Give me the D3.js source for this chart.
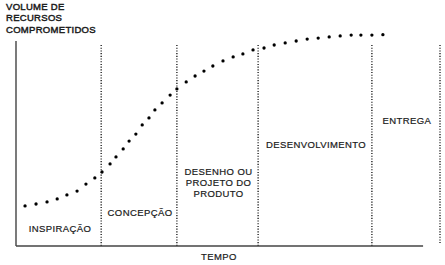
<!DOCTYPE html>
<html>
<head>
<meta charset="utf-8">
<script src="https://cdn.jsdelivr.net/npm/d3@7"></script>
<style>
  body { margin: 0; background: #fff; }
  text { font-family: 'Liberation Sans', Arial, sans-serif; fill: #1a1a1a; }
</style>
</head>
<body>
<div id="graf"></div>
<script>
// tempo (0-100) e volume de recursos (0-100)
const tempo = [1.9, 4.5, 7.1, 9.5, 11.8, 14.2, 16.3, 18.4, 20.1, 22.0, 23.4, 25.1, 26.5, 28.1, 29.6, 31.2, 32.6, 34.3, 36.2, 37.8,
  40.0, 42.1, 44.2, 46.3, 48.7, 51.1, 53.4, 55.8, 58.4, 60.8, 63.4, 66.0, 68.6, 71.2, 73.8, 76.4, 79.0, 81.3, 83.9, 86.5]
const volume = [18.9, 19.8, 20.8, 22.2, 24.1, 25.9, 29.2, 32.1, 34.9, 38.7, 42.0, 45.8, 49.5, 52.8, 57.1, 60.4, 64.2, 67.5, 71.2, 74.1,
  77.4, 80.2, 82.5, 84.9, 87.3, 89.2, 90.6, 92.5, 93.4, 94.8, 95.8, 96.7, 97.6, 98.1, 98.6, 99.1, 99.5, 99.5, 99.5, 99.7]
const fases = ['INSPIRAÇÃO', 'CONCEPÇÃO', 'DESENHO OU|PROJETO DO|PRODUTO', 'DESENVOLVIMENTO', 'ENTREGA']
const limites = [0, 19.9, 37.8, 57.0, 83.9, 100]
const tituloY = ['VOLUME DE', 'RECURSOS', 'COMPROMETIDOS']
const tituloX = 'TEMPO'

const anchoTotal = 445
const altoTotal = 265

const svg = d3.select('#graf')
  .append('svg')
  .attr('width', anchoTotal)
  .attr('height', altoTotal)

const x = d3.scaleLinear().domain([0, 100]).range([17, 440])
const y = d3.scaleLinear().domain([0, 100]).range([246, 34])

// baseline de cada rotulo de fase
const rotuloY = [232, 216, 175, 148, 124]

// linhas pontilhadas das fases
svg.selectAll('line.fase')
  .data(limites.slice(1))
  .enter()
  .append('line')
  .attr('class', 'fase')
  .attr('x1', d => x(d))
  .attr('x2', d => x(d))
  .attr('y1', 45)
  .attr('y2', (d, i) => i === 4 ? 243 : 247)
  .attr('stroke', '#111')
  .attr('stroke-width', 1.3)
  .attr('stroke-dasharray', '1.1,1.6')

// eixos
svg.append('line')
  .attr('x1', x(0) - 1).attr('x2', x(0) - 1)
  .attr('y1', 41).attr('y2', y(0))
  .attr('stroke', '#222')
  .attr('stroke-width', 1.2)

svg.append('line')
  .attr('x1', x(0) - 1).attr('x2', x(96))
  .attr('y1', y(0)).attr('y2', y(0))
  .attr('stroke', '#444')
  .attr('stroke-width', 1.4)

// curva pontilhada
svg.selectAll('circle')
  .data(tempo.map((t, i) => ({ t, v: volume[i] })))
  .enter()
  .append('circle')
  .attr('cx', d => x(d.t))
  .attr('cy', d => y(d.v))
  .attr('r', 1.65)
  .attr('fill', '#000')

// rotulos das fases
const rotulos = svg.selectAll('text.fase')
  .data(fases)
  .enter()
  .append('text')
  .attr('class', 'fase')
  .attr('text-anchor', 'middle')
  .attr('font-size', 9.5)
  .attr('letter-spacing', 0.4)
  .attr('stroke', '#1a1a1a')
  .attr('stroke-width', 0.2)
  .attr('y', (d, i) => rotuloY[i])

rotulos.each(function (d, i) {
  const cx = (x(limites[i]) + x(limites[i + 1])) / 2
  d3.select(this).selectAll('tspan')
    .data(d.split('|'))
    .enter()
    .append('tspan')
    .attr('x', cx + 1)
    .attr('dy', (s, j) => j === 0 ? 0 : 10.8)
    .text(s => s)
})

// titulo do eixo y
svg.append('text')
  .attr('font-size', 9.5)
  .attr('letter-spacing', 0.3)
  .attr('stroke', '#1a1a1a')
  .attr('stroke-width', 0.45)
  .selectAll('tspan')
  .data(tituloY)
  .enter()
  .append('tspan')
  .attr('x', 6)
  .attr('y', (d, i) => 9.5 + i * 11.8)
  .text(d => d)

// titulo do eixo x
svg.append('text')
  .attr('font-size', 9.5)
  .attr('letter-spacing', 0.4)
  .attr('stroke', '#1a1a1a')
  .attr('stroke-width', 0.2)
  .attr('text-anchor', 'middle')
  .attr('x', 219)
  .attr('y', 260)
  .text(tituloX)
</script>
</body>
</html>
